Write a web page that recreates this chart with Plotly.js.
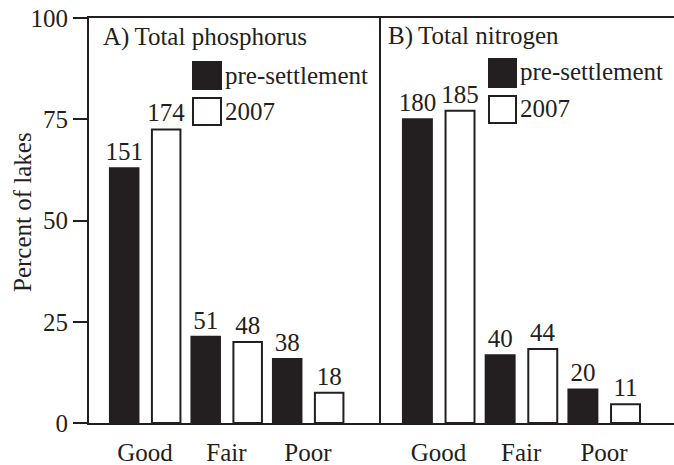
<!DOCTYPE html>
<html>
<head>
<meta charset="utf-8">
<script src="https://cdn.plot.ly/plotly-3.0.1.min.js"></script>
<style>html,body{margin:0;padding:0;background:#fff;}#chart{width:674px;height:465px;}</style>
</head>
<body>
<div id="chart"></div>
<script>
// ---- data ----
const categories = ["Good", "Fair", "Poor"];
const seriesNames = ["pre-settlement", "2007"];
// Panel A: total phosphorus (percent of lakes) and lake counts
const phosPre = [62.9, 21.3, 15.8];
const phos2007 = [72.5, 20.0, 7.5];
const phosPreCount = [151, 51, 38];
const phos2007Count = [174, 48, 18];
// Panel B: total nitrogen
const nitPre = [75.0, 16.7, 8.3];
const nit2007 = [77.1, 18.3, 4.6];
const nitPreCount = [180, 40, 20];
const nit2007Count = [185, 44, 11];
const yTicks = [0, 25, 50, 75, 100];
const yTitle = "Percent of lakes";
const panelTitles = ["A)\u2009Total phosphorus", "B)\u2009Total nitrogen"];

// ---- style ----
const INK = "#231f20";
const FONT = "Liberation Serif, Times New Roman, serif";
const FS = 25;
const W = 674, H = 465;
const M = {l: 89, r: 0, t: 18, b: 42};
const PW = W - M.l - M.r, PH = H - M.t - M.b;
const splitPx = 381;
const split = (splitPx - M.l) / PW;
const px = x => (x - M.l) / PW;
const py = y => (H - M.b - y) / PH;

const xIdx = categories.map((_, i) => i);
function barTrace(y, counts, filled, xa, ya, offset, name) {
  return {
    type: "bar", x: xIdx, y: y, xaxis: xa, yaxis: ya, name: name,
    width: 0.35, offset: offset,
    marker: {color: filled ? INK : "#ffffff", line: {color: INK, width: 2}},
    text: counts.map(String), textposition: "outside", constraintext: "none",
    cliponaxis: false,
    textfont: {family: FONT, size: FS, color: INK},
    hoverinfo: "skip", showlegend: false
  };
}
const data = [
  barTrace(phosPre, phosPreCount, true, "x", "y", -0.43, seriesNames[0]),
  barTrace(phos2007, phos2007Count, false, "x", "y", 0.085, seriesNames[1]),
  barTrace(nitPre, nitPreCount, true, "x2", "y2", -0.43, seriesNames[0]),
  barTrace(nit2007, nit2007Count, false, "x2", "y2", 0.085, seriesNames[1])
];

const xBase = {
  tickvals: xIdx, ticktext: categories, ticks: "outside", ticklen: 6,
  tickcolor: "rgba(0,0,0,0)", showline: true, linecolor: INK, linewidth: 2,
  mirror: true, showgrid: false, zeroline: false, fixedrange: true,
  tickfont: {family: FONT, size: FS, color: INK}
};
const legendBoxes = [
  {x0: 193, x1: 221, y0: 62, y1: 89, fill: INK, ty: 75, tx: 223},
  {x0: 193, x1: 221, y0: 98, y1: 125, fill: "#ffffff", ty: 111, tx: 223},
  {x0: 489, x1: 516, y0: 59, y1: 87, fill: INK, ty: 72, tx: 518},
  {x0: 489, x1: 516, y0: 96, y1: 123, fill: "#ffffff", ty: 109, tx: 518}
];
const shapes = legendBoxes.map(b => ({
  type: "rect", xref: "paper", yref: "paper",
  x0: px(b.x0), x1: px(b.x1), y0: py(b.y1), y1: py(b.y0),
  fillcolor: b.fill, line: {color: INK, width: 2}
}));
const annotations = legendBoxes.map((b, i) => ({
  xref: "paper", yref: "paper", x: px(b.tx), y: py(b.ty),
  xanchor: "left", yanchor: "middle", showarrow: false,
  text: seriesNames[i % 2], font: {family: FONT, size: FS, color: INK}
}));
annotations.push(
  {xref: "paper", yref: "paper", x: px(101), y: py(37), xanchor: "left", yanchor: "middle",
   showarrow: false, text: panelTitles[0], font: {family: FONT, size: FS, color: INK}},
  {xref: "paper", yref: "paper", x: px(386), y: py(36), xanchor: "left", yanchor: "middle",
   showarrow: false, text: panelTitles[1], font: {family: FONT, size: FS, color: INK}},
  {xref: "paper", yref: "paper", x: px(23), y: py(212), xanchor: "center", yanchor: "middle",
   textangle: -90, showarrow: false, text: yTitle, font: {family: FONT, size: FS, color: INK}}
);

const layout = {
  width: W, height: H, margin: M,
  paper_bgcolor: "#ffffff", plot_bgcolor: "#ffffff",
  font: {family: FONT, color: INK},
  showlegend: false,
  xaxis: Object.assign({}, xBase, {domain: [0, split], range: [-0.687, 2.896], anchor: "y"}),
  xaxis2: Object.assign({}, xBase, {domain: [split, 1], range: [-0.695, 2.846], anchor: "y2"}),
  yaxis: {
    domain: [0, 1], range: [0, 100], tickvals: yTicks, ticks: "outside", ticklen: 14,
    tickwidth: 2, tickcolor: INK, showline: true, linecolor: INK, linewidth: 2,
    showgrid: false, zeroline: false, anchor: "x", fixedrange: true,
    tickfont: {family: FONT, size: FS, color: INK}
  },
  yaxis2: {
    domain: [0, 1], range: [0, 100], showline: true, linecolor: INK, linewidth: 2,
    showticklabels: false, ticks: "", showgrid: false, zeroline: false, anchor: "x2",
    fixedrange: true
  },
  shapes: shapes,
  annotations: annotations
};
Plotly.newPlot("chart", data, layout, {displayModeBar: false, staticPlot: true});
</script>
</body>
</html>
